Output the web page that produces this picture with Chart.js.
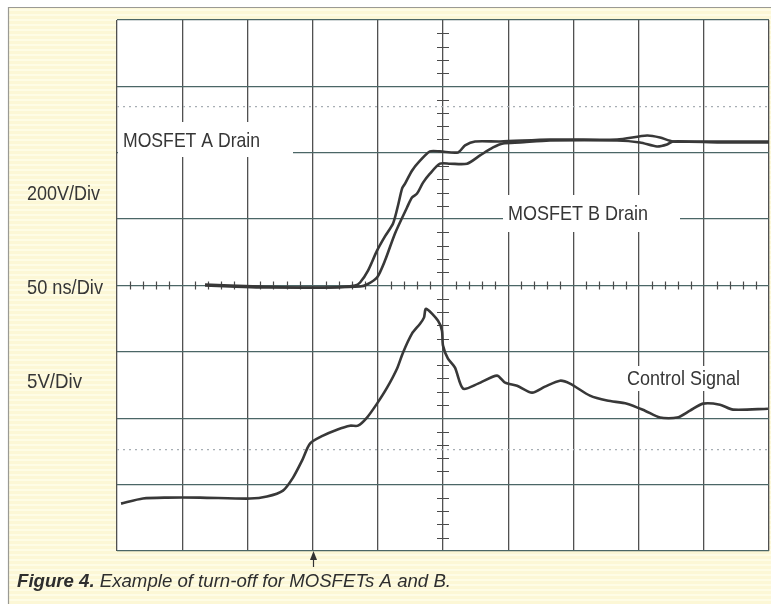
<!DOCTYPE html>
<html>
<head>
<meta charset="utf-8">
<script src="https://cdn.jsdelivr.net/npm/chart.js@4.4.1/dist/chart.umd.min.js"></script>
<style>
    html, body { margin: 0; padding: 0; background: #fff; }
    canvas { display: block; }
</style>
</head>
<body>
<canvas id="scope" width="771" height="604"></canvas>
<script>
// time in ns (50 ns/div), drain voltage in V (200 V/div), control in V (5 V/div)
const drainATime = [67.5, 86.7, 109.7, 132.7, 163.4, 182.5, 186.4, 192.5, 199.4, 205.5, 211.7, 215.5, 218.6, 220.9, 226.2, 232.4, 240.0, 247.7, 261.5, 266.9, 274.6, 293.7, 332.1, 383.5, 406.5, 416.4, 426.4, 462.4, 500];
const drainAVolts = [3, 0, -3, -6, -6, 0, 9, 45, 105, 148, 187, 241, 292, 307, 346, 376, 404, 404, 401, 422, 434, 434, 440, 440, 452, 446, 434, 434, 434];

const drainBTime = [67.5, 86.7, 109.7, 132.7, 163.4, 186.4, 191.7, 199.4, 205.5, 213.2, 222.4, 226.2, 230.1, 234.7, 240.0, 247.7, 255.4, 268.4, 278.4, 288.4, 296.0, 309.1, 332.1, 383.5, 401.1, 414.1, 421.8, 426.4, 462.4, 500];
const drainBVolts = [0, -3, -6, -6, -6, -3, 3, 24, 75, 157, 235, 265, 277, 310, 337, 367, 367, 367, 392, 416, 428, 431, 437, 437, 431, 419, 425, 434, 431, 431];

const controlTime = [3.1, 19.9, 38.3, 63.7, 102.0, 115.0, 127.3, 135.0, 141.9, 148.0, 158.0, 168.7, 178.7, 184.8, 191.7, 199.4, 207.1, 214.7, 219.3, 226.2, 232.4, 235.4, 237.0, 246.2, 249.2, 250.0, 253.8, 259.2, 265.4, 276.9, 291.4, 297.6, 306.8, 318.3, 328.2, 339.7, 347.4, 362.7, 375.8, 391.1, 404.9, 416.4, 429.5, 439.4, 449.4, 462.4, 472.4, 499.2];
const controlVolts = [-1.43, -1.05, -0.98, -0.98, -1.05, -0.90, -0.45, 0.53, 1.81, 3.09, 3.69, 4.14, 4.44, 4.44, 5.05, 6.10, 7.30, 8.73, 9.94, 11.37, 12.12, 12.58, 13.25, 12.35, 11.60, 10.47, 9.49, 8.81, 7.23, 7.61, 8.21, 7.68, 7.45, 6.93, 7.38, 7.83, 7.61, 6.70, 6.33, 6.10, 5.57, 5.05, 5.05, 5.57, 6.10, 6.02, 5.65, 5.72];

// dotted reference levels
const drainRefVolts = 539;
const controlRefVolts = 2.64;

const traceColor = '#383838';

function pairs(xs, ys) {
    return xs.map((x, i) => ({ x: x, y: ys[i] }));
}

function flatLine(v) {
    return [{ x: 0, y: v }, { x: 500, y: v }];
}

const paperPlugin = {
    id: 'paper',
    beforeDraw(chart) {
        const { ctx, chartArea: a } = chart;
        ctx.save();
        ctx.fillStyle = '#ffffff';
        ctx.fillRect(0, 0, chart.width, chart.height);
        ctx.fillStyle = '#fcf7d6';
        ctx.fillRect(8, 7, chart.width - 8, chart.height - 7);
        ctx.fillStyle = 'rgba(255,255,240,0.6)';
        for (let y = 9; y < chart.height; y += 5) ctx.fillRect(8, y, chart.width - 8, 2);
        ctx.strokeStyle = '#9a9a94';
        ctx.lineWidth = 1.2;
        ctx.beginPath();
        ctx.moveTo(8.5, chart.height);
        ctx.lineTo(8.5, 7.5);
        ctx.lineTo(chart.width, 7.5);
        ctx.stroke();
        ctx.fillStyle = '#ffffff';
        ctx.fillRect(a.left, a.top, a.right - a.left, a.bottom - a.top);
        ctx.restore();
    }
};

function drawFitted(ctx, text, x, y, width, font) {
    ctx.font = font;
    const w = ctx.measureText(text).width;
    ctx.save();
    ctx.translate(x, y);
    ctx.scale(width / w, 1);
    ctx.fillText(text, 0, 0);
    ctx.restore();
}

const overlayPlugin = {
    id: 'overlay',
    beforeDatasetsDraw(chart) {
        const { ctx, scales } = chart;
        const xs = scales.x, ys = scales.y;
        const y0 = ys.getPixelForValue(0);
        const xc = xs.getPixelForValue(250);
        ctx.save();
        ctx.strokeStyle = '#4a4a4a';
        ctx.lineWidth = 1.2;
        ctx.beginPath();
        for (let t = 10; t < 500; t += 10) {
            if (t % 50 === 0) continue;
            const px = Math.round(xs.getPixelForValue(t)) + 0.5;
            ctx.moveTo(px, y0 - 4);
            ctx.lineTo(px, y0 + 4);
        }
        for (let v = -760; v < 800; v += 40) {
            if (v % 200 === 0) continue;
            const py = Math.round(ys.getPixelForValue(v)) + 0.5;
            ctx.moveTo(xc - 6, py);
            ctx.lineTo(xc + 6, py);
        }
        ctx.stroke();

        // label boxes hide the graticule
        ctx.fillStyle = '#ffffff';
        ctx.fillRect(118, 122, 175, 35);
        ctx.fillRect(503, 195, 177, 37);
        ctx.fillRect(622, 366, 124, 25);
        ctx.restore();
    },
    afterDatasetsDraw(chart) {
        const { ctx, scales } = chart;
        ctx.save();
        ctx.fillStyle = '#363636';
        ctx.textBaseline = 'middle';
        const f = '21px "Liberation Sans", Arial, sans-serif';
        drawFitted(ctx, 'MOSFET A Drain', 123, 141, 137, f);
        drawFitted(ctx, 'MOSFET B Drain', 508, 214, 140, f);
        drawFitted(ctx, 'Control Signal', 627, 379, 113, f);
        drawFitted(ctx, '200V/Div', 27, 194, 73, f);
        drawFitted(ctx, '50 ns/Div', 27, 288, 76, f);
        drawFitted(ctx, '5V/Div', 27, 382, 55, f);

        // caption
        const bold = 'italic bold 19px "Liberation Sans", Arial, sans-serif';
        const ital = 'italic 19px "Liberation Sans", Arial, sans-serif';
        const part1 = 'Figure 4.';
        const part2 = ' Example of turn-off for MOSFETs A and B.';
        ctx.font = bold;
        const w1 = ctx.measureText(part1).width;
        ctx.font = ital;
        const w2 = ctx.measureText(part2).width;
        const k = 434 / (w1 + w2);
        ctx.save();
        ctx.translate(17, 587);
        ctx.scale(k, 1);
        ctx.textBaseline = 'alphabetic';
        ctx.fillStyle = '#2e2e2e';
        ctx.font = bold;
        ctx.fillText(part1, 0, 0);
        ctx.font = ital;
        ctx.fillText(part2, w1, 0);
        ctx.restore();

        // trigger arrow
        const ax = Math.round(scales.x.getPixelForValue(150)) + 0.5;
        ctx.strokeStyle = '#333333';
        ctx.lineWidth = 1.2;
        ctx.beginPath();
        ctx.moveTo(ax, 567);
        ctx.lineTo(ax, 558);
        ctx.stroke();
        ctx.fillStyle = '#333333';
        ctx.beginPath();
        ctx.moveTo(ax, 551);
        ctx.lineTo(ax - 3.5, 560);
        ctx.lineTo(ax + 3.5, 560);
        ctx.closePath();
        ctx.fill();
        ctx.restore();
    }
};

const trace = (data, axis) => ({
    data: data,
    yAxisID: axis,
    borderColor: traceColor,
    borderWidth: 2.6,
    pointRadius: 0,
    tension: 0.25,
    fill: false
});

const dotted = (data, axis) => ({
    data: data,
    yAxisID: axis,
    borderColor: '#a7aeb4',
    borderWidth: 1.3,
    borderDash: [2, 4],
    pointRadius: 0,
    fill: false
});

new Chart(document.getElementById('scope'), {
    type: 'line',
    data: {
        datasets: [
            dotted(flatLine(drainRefVolts), 'y'),
            dotted(flatLine(controlRefVolts), 'yc'),
            trace(pairs(drainATime, drainAVolts), 'y'),
            trace(pairs(drainBTime, drainBVolts), 'y'),
            trace(pairs(controlTime, controlVolts), 'yc')
        ]
    },
    options: {
        responsive: false,
        animation: false,
        devicePixelRatio: 1,
        layout: { padding: { left: 117, top: 20, right: 2, bottom: 53 } },
        plugins: { legend: { display: false }, tooltip: { enabled: false } },
        scales: {
            x: {
                type: 'linear',
                min: 0,
                max: 500,
                ticks: { display: false, stepSize: 50 },
                grid: { color: '#505050', lineWidth: 1.3, drawTicks: false },
                border: { display: false },
                afterFit: s => { s.height = 0; }
            },
            y: {
                min: -800,
                max: 800,
                ticks: { display: false, stepSize: 200 },
                grid: { color: '#4b6666', lineWidth: 1.3, drawTicks: false },
                border: { display: false },
                afterFit: s => { s.width = 0; }
            },
            yc: {
                display: false,
                min: -5,
                max: 35
            }
        }
    },
    plugins: [paperPlugin, overlayPlugin]
});
</script>
</body>
</html>
